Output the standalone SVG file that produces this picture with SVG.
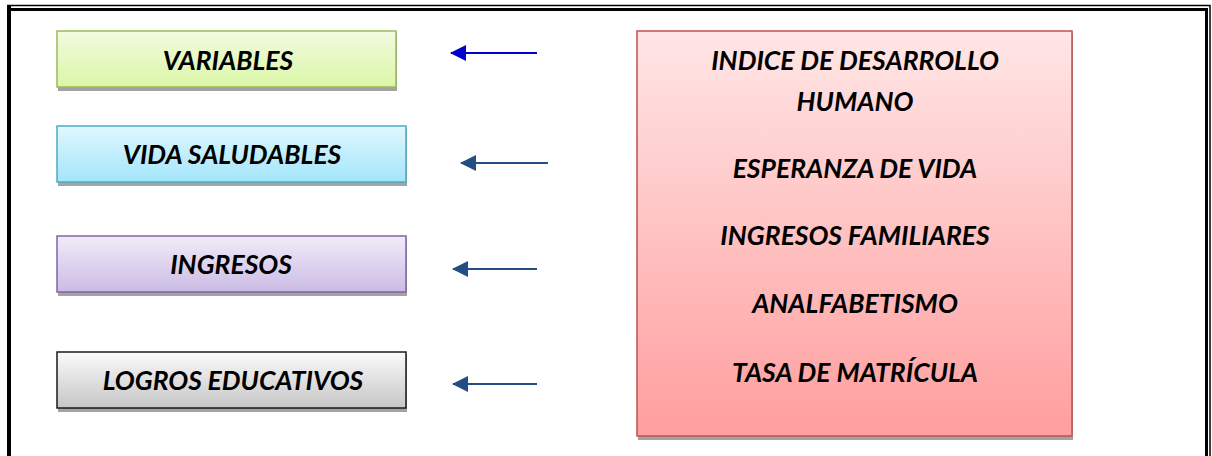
<svg xmlns="http://www.w3.org/2000/svg" width="1212" height="456" viewBox="0 0 1212 456">
<style>
.t{font-family:Lato,"Liberation Sans",sans-serif;font-weight:bold;font-style:italic;font-size:26.5px;fill:#000;text-anchor:middle}
.sh{fill:#a3a3a3}
.ln{stroke-width:2;fill:none}
</style>
<defs>
<linearGradient id="gG" x1="0" y1="0" x2="0" y2="1"><stop offset="0" stop-color="#f2fbe0"/><stop offset="1" stop-color="#dbf6a6"/></linearGradient>
<linearGradient id="gB" x1="0" y1="0" x2="0" y2="1"><stop offset="0" stop-color="#e0f7fe"/><stop offset="1" stop-color="#a3e5fb"/></linearGradient>
<linearGradient id="gP" x1="0" y1="0" x2="0" y2="1"><stop offset="0" stop-color="#f1ecf8"/><stop offset="1" stop-color="#cbbbe5"/></linearGradient>
<linearGradient id="gK" x1="0" y1="0" x2="0" y2="1"><stop offset="0" stop-color="#fafafa"/><stop offset="1" stop-color="#c6c6c6"/></linearGradient>
<linearGradient id="gR" x1="0" y1="0" x2="0" y2="1"><stop offset="0" stop-color="#ffe6e6"/><stop offset="1" stop-color="#ff9e9e"/></linearGradient>
<marker id="ahB" viewBox="0 0 16 16" refX="15" refY="8" markerWidth="16" markerHeight="16" markerUnits="userSpaceOnUse" orient="auto"><path d="M0,0 L16,8 L0,16 Z" fill="#0000cc"/></marker>
<marker id="ahN" viewBox="0 0 16 16" refX="15" refY="8" markerWidth="16" markerHeight="16" markerUnits="userSpaceOnUse" orient="auto"><path d="M0,0 L16,8 L0,16 Z" fill="#254d85"/></marker>
</defs>
<rect width="1212" height="456" fill="#fff"/>
<g id="frame" fill="none" stroke="#000">
<path d="M7,5.5 H1210 V456" stroke-width="1.5"/>
<path d="M9,9.5 H1206.5 V456" stroke-width="3"/>
<path d="M9,5 V456" stroke-width="4"/>
</g>
<g id="n-variables">
<rect class="sh" x="58" y="33" width="339" height="58"/>
<rect x="57" y="31" width="339" height="56" fill="url(#gG)" stroke="#9bbb59" stroke-width="1.5"/>
<text class="t" x="228" y="70">VARIABLES</text>
</g>
<g id="n-vida">
<rect class="sh" x="58" y="128" width="349" height="58"/>
<rect x="57" y="126" width="349" height="56" fill="url(#gB)" stroke="#4bacc6" stroke-width="1.5"/>
<text class="t" x="232" y="164">VIDA SALUDABLES</text>
</g>
<g id="n-ingresos">
<rect class="sh" x="58" y="238" width="349" height="58"/>
<rect x="57" y="236" width="349" height="56" fill="url(#gP)" stroke="#8064a2" stroke-width="1.5"/>
<text class="t" x="231" y="274">INGRESOS</text>
</g>
<g id="n-logros">
<rect class="sh" x="58" y="354" width="349" height="58"/>
<rect x="57" y="352" width="349" height="56" fill="url(#gK)" stroke="#1a1a1a" stroke-width="1.5"/>
<text class="t" x="233" y="390">LOGROS EDUCATIVOS</text>
</g>
<g id="n-indice">
<rect class="sh" x="638" y="33" width="435" height="407"/>
<rect x="637" y="31" width="435" height="405" fill="url(#gR)" stroke="#c0504d" stroke-width="1.5"/>
<text class="t" x="855" y="70">INDICE DE DESARROLLO</text>
<text class="t" x="855" y="111">HUMANO</text>
<text class="t" x="855" y="178">ESPERANZA DE VIDA</text>
<text class="t" x="855" y="245">INGRESOS FAMILIARES</text>
<text class="t" x="855" y="313">ANALFABETISMO</text>
<text class="t" x="855" y="382">TASA DE MATRÍCULA</text>
</g>
<g id="connectors">
<line class="ln" x1="537" y1="53" x2="451" y2="53" stroke="#0000cc" marker-end="url(#ahB)"/>
<line class="ln" x1="548" y1="163" x2="461" y2="163" stroke="#254d85" marker-end="url(#ahN)"/>
<line class="ln" x1="537" y1="269" x2="453" y2="269" stroke="#254d85" marker-end="url(#ahN)"/>
<line class="ln" x1="537" y1="384" x2="453" y2="384" stroke="#254d85" marker-end="url(#ahN)"/>
</g>
</svg>
